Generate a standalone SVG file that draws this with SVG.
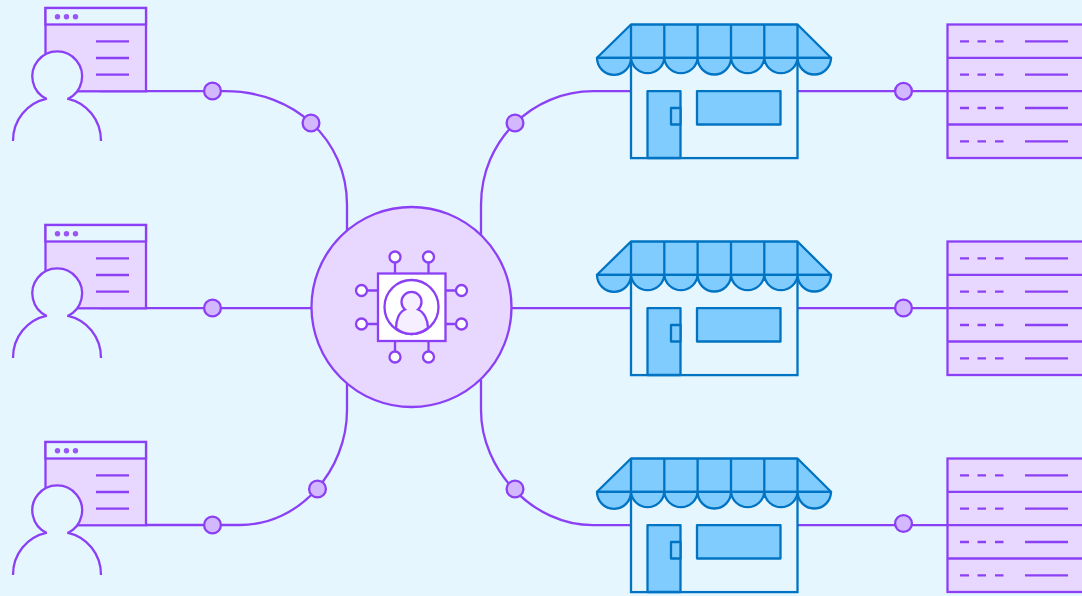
<svg xmlns="http://www.w3.org/2000/svg" width="1082" height="596" viewBox="0 0 1082 596">
<style>
.c{fill:none;stroke:#8c40f5;stroke-width:2.300}
.p{fill:#e8d8ff;stroke:#8c40f5;stroke-width:2.300}
.w{fill:#e5f6ff;stroke:#8c40f5;stroke-width:2.300}
.d{fill:#d4b8ff;stroke:#8c40f5;stroke-width:2.300}
.b{fill:#80ccff;stroke:#0074c2;stroke-width:2.300;stroke-linejoin:round}
.s{fill:#e5f6ff;stroke:#0074c2;stroke-width:2.300}
.f{fill:#9a55f7}
.i{fill:#fff;stroke:#8c40f5;stroke-width:2.300}
</style>
<defs>
<g id="user">
<rect class="p" x="45.500" y="8" width="100.500" height="83.300"/>
<rect class="w" x="45.500" y="8" width="100.500" height="16.500"/>
<circle class="f" cx="57.500" cy="16.700" r="2.700"/><circle class="f" cx="66.500" cy="16.700" r="2.700"/><circle class="f" cx="75.500" cy="16.700" r="2.700"/>
<path class="c" d="M96 41.300H129M96 58H129M96 74.600H129"/>
<path d="M46.200 98.700A24.900 24.900 0 1 1 68.200 98.700Z" fill="#e5f6ff"/>
<path class="c" d="M46.200 98.700A24.900 24.900 0 1 1 68.200 98.700"/>
<path class="c" d="M13 141C13 120 27 103 47 98.700M67.200 98.700C87 103 101 120 101 141"/>
</g>
<g id="store">
<rect class="s" x="631" y="57.800" width="166.500" height="100.300"/>
<path class="b" d="M631 24.500H797.500L831 57.800H597Z"/>
<path class="b" d="M631 24.500V57.800M664.300 24.500V57.800M697.600 24.500V57.800M731 24.500V57.800M764.300 24.500V57.800M797.500 24.500V57.800"/>
<path class="b" d="M597 57.800H831A16.700 16.700 0 0 1 797.600 57.800A16.700 16.700 0 0 1 764.300 57.800A16.700 16.700 0 0 1 731 57.800A16.700 16.700 0 0 1 697.600 57.800A16.700 16.700 0 0 1 664.300 57.800A16.700 16.700 0 0 1 631 57.800A16.700 16.700 0 0 1 597 57.800Z"/>
<rect class="b" x="647.500" y="91.200" width="33" height="66.800"/>
<rect class="b" x="671" y="108" width="9.500" height="16.500"/>
<rect class="b" x="697" y="91.200" width="83.500" height="33.300"/>
</g>
<g id="server">
<rect class="p" x="947.500" y="24.500" width="140" height="133.500"/>
<path class="c" d="M947.500 57.800H1090M947.500 91.200H1090M947.500 124.500H1090"/>
<path class="c" d="M960 41.300H969M977.500 41.300H986M995 41.300H1003.500M1025 41.300H1068M960 74.600H969M977.500 74.600H986M995 74.600H1003.500M1025 74.600H1068M960 108H969M977.500 108H986M995 108H1003.500M1025 108H1068M960 141.300H969M977.500 141.300H986M995 141.300H1003.500M1025 141.300H1068"/>
</g>
</defs>
<rect width="1082" height="596" fill="#e5f6ff"/>
<g id="connectors">
<path class="c" d="M100 91.200H225C295 91.200 347 140 347 205V232"/>
<path class="c" d="M100 308.200H311.500"/>
<path class="c" d="M146 525H240C300 525 347 470 347 410V382"/>
<path class="c" d="M631 91.200H593C533 91.200 481 140 481 205V236"/>
<path class="c" d="M512 308.200H631"/>
<path class="c" d="M631 525.200H593C533 525.200 481 470 481 410V380"/>
<path class="c" d="M797 91.200H947.500"/>
<path class="c" d="M797 308.200H947.500"/>
<path class="c" d="M797 525.200H947.500"/>
<circle class="d" cx="212.500" cy="91" r="8.400"/>
<circle class="d" cx="311" cy="123" r="8.400"/>
<circle class="d" cx="212.500" cy="308" r="8.400"/>
<circle class="d" cx="212.500" cy="525" r="8.400"/>
<circle class="d" cx="317.500" cy="489" r="8.400"/>
<circle class="d" cx="515" cy="123" r="8.400"/>
<circle class="d" cx="515" cy="489" r="8.400"/>
<circle class="d" cx="903.500" cy="91.200" r="8.400"/>
<circle class="d" cx="903.500" cy="308" r="8.400"/>
<circle class="d" cx="903.500" cy="523.500" r="8.400"/>
</g>
<g id="user-1"><use href="#user"/></g>
<g id="user-2"><use href="#user" y="217"/></g>
<g id="user-3"><use href="#user" y="434"/></g>
<g id="hub">
<circle class="p" cx="411.500" cy="307" r="100"/>
<path class="c" d="M395 262V273.500M428.500 262V273.500M395 341V352M428.500 341V352M367 290.500H378M367 324H378M445.500 290.500H456M445.500 324H456"/>
<rect class="i" x="378" y="273.500" width="67.500" height="67.500"/>
<circle class="c" cx="411.500" cy="307" r="27"/>
<path d="M405 309.500A10 10 0 1 1 418 309.500C424 312 428 320 428 328Q420 334 411.500 334Q403 334 396 328C396 320 399 312 405 309.500Z" fill="#f5efff" stroke="#8c40f5" stroke-width="2.300"/>
<circle class="i" cx="395" cy="257" r="5.500"/><circle class="i" cx="428.500" cy="257" r="5.500"/>
<circle class="i" cx="395" cy="357" r="5.500"/><circle class="i" cx="428.500" cy="357" r="5.500"/>
<circle class="i" cx="361.500" cy="290.500" r="5.500"/><circle class="i" cx="361.500" cy="324" r="5.500"/>
<circle class="i" cx="461.500" cy="290.500" r="5.500"/><circle class="i" cx="461.500" cy="324" r="5.500"/>
</g>
<g id="store-1"><use href="#store"/></g>
<g id="store-2"><use href="#store" y="217"/></g>
<g id="store-3"><use href="#store" y="434"/></g>
<g id="server-1"><use href="#server"/></g>
<g id="server-2"><use href="#server" y="217"/></g>
<g id="server-3"><use href="#server" y="434"/></g>
</svg>
